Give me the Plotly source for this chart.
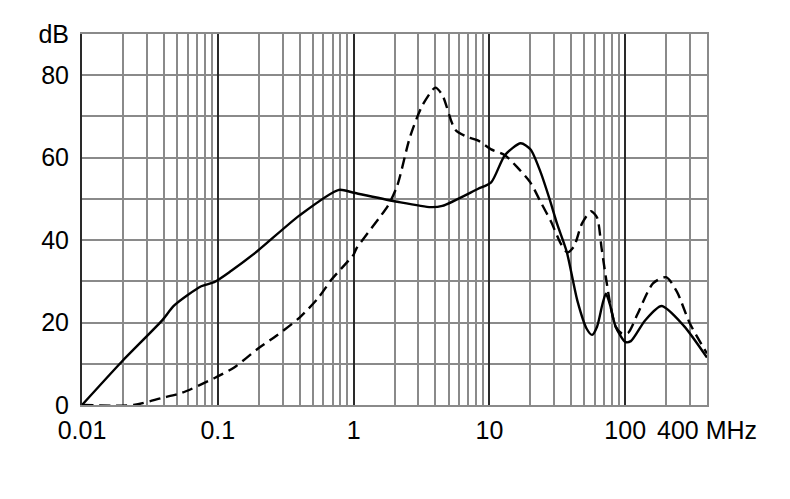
import plotly.graph_objects as go

# frequency (MHz) / attenuation (dB)
freq_solid = [0.01, 0.0196, 0.0386, 0.048, 0.0755, 0.094, 0.125, 0.195, 0.4, 0.78, 1.0, 2.1,
              3.7, 4.5, 8.2, 10.3, 13, 17, 20.1, 23.8, 27.7, 31.6, 37, 44.5, 52, 57, 62, 68,
              72, 77, 85, 100, 110, 140, 185, 270, 400]
db_solid = [0, 10.5, 20.4, 24.2, 28.8, 29.8, 32.5, 37.3, 46, 52.2, 51.5, 49.3,
            48, 48.3, 52.4, 54, 60.6, 63.5, 62, 56.5, 50, 43.8, 37.3, 25.2, 18.5, 17, 19, 24.5,
            27, 24.5, 19, 15.3, 15.5, 20.5, 24, 19.2, 11.5]

freq_dash = [0.01, 0.024, 0.0386, 0.054, 0.094, 0.132, 0.198, 0.27, 0.4, 0.55, 0.69, 1.0,
             1.05, 1.8, 2.1, 2.6, 3.2, 4.0, 4.5, 5.6, 6.9, 8.2, 10.3, 13, 16, 20, 23.8, 28.4,
             33.7, 37.6, 42, 48, 56, 62, 67, 72, 78, 85, 95, 105, 123, 160, 200, 240, 300, 400]
db_dash = [0, 0, 1.7, 2.9, 6.5, 9.1, 13.7, 16.8, 21.2, 26, 30.5, 36.5,
           38, 48.5, 53.3, 65, 72.6, 77, 75.2, 66.8, 65, 64.2, 62, 60.6, 57.7, 54, 49.3, 44.5,
           39, 37, 38.5, 44, 47, 45.5, 38, 31, 24, 19, 17.3, 17.5, 22, 29.5, 31, 27.5, 19.7, 12.5]

x_ticks = [0.01, 0.1, 1, 10, 100, 400]
x_labels = ["0.01", "0.1", "1", "10", "100", "400 MHz"]
decades = [0.01, 0.1, 1, 10, 100]
minor_x = [m * d for d in decades for m in range(2, 10) if m * d <= 400] + [400]
y_ticks = [0, 20, 40, 60, 80, 90]
y_labels = ["0", "20", "40", "60", "80", "dB"]

GRID = "#8a8a8a"
DARK = "#2a2a2a"
XR = [-2, 2.60206]
font = dict(family="Liberation Sans, Arial, sans-serif", size=25, color="black")

fig = go.Figure()
fig.add_trace(go.Scatter(x=freq_solid, y=db_solid, mode="lines",
                         line=dict(color="black", width=2.4, shape="spline", smoothing=0.7)))
fig.add_trace(go.Scatter(x=freq_dash, y=db_dash, mode="lines",
                         line=dict(color="black", width=2.4, shape="spline", smoothing=0.7,
                                   dash="11px,6px")))
# empty trace so the decade grid / right border axes get drawn
fig.add_trace(go.Scatter(x=[0.01], y=[0], xaxis="x2", yaxis="y2", mode="markers",
                         marker=dict(opacity=0), hoverinfo="skip"))

fig.update_layout(
    width=790, height=499,
    margin=dict(l=74, r=91, t=21, b=102),
    plot_bgcolor="white", paper_bgcolor="white",
    showlegend=False, font=font,
    xaxis=dict(type="log", range=XR, tickvals=x_ticks, ticktext=x_labels,
               showgrid=False, zeroline=False, ticks="", ticklabelstandoff=2,
               showline=True, mirror=True, linecolor=GRID, linewidth=1.6,
               minor=dict(tickvals=minor_x, showgrid=True, gridcolor=GRID, gridwidth=1.6)),
    xaxis2=dict(type="log", range=XR, overlaying="x", tickvals=decades,
                showticklabels=False, showgrid=True, gridcolor=DARK, gridwidth=2,
                zeroline=False, ticks=""),
    yaxis=dict(range=[0, 90], tickvals=y_ticks, ticktext=y_labels, showgrid=True,
               gridcolor=GRID, gridwidth=1.6, zeroline=False, ticks="", ticklabelstandoff=6,
               showline=True, linecolor=DARK, linewidth=2,
               minor=dict(dtick=10, showgrid=True, gridcolor=GRID, gridwidth=1.6)),
    yaxis2=dict(range=[0, 90], overlaying="y", side="right", showticklabels=False,
                showgrid=False, zeroline=False, ticks="",
                showline=True, linecolor=GRID, linewidth=1.6),
)

fig.write_html("out.html")
